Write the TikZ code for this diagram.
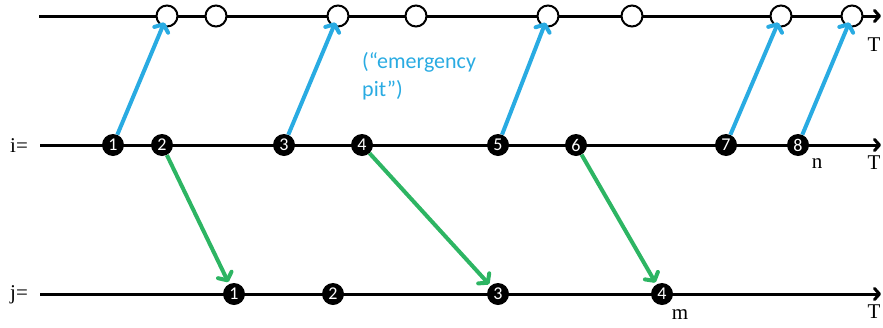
\documentclass[tikz,border=0pt]{standalone}
\usepackage{fontspec}
\setmainfont{Liberation Serif}
\newfontfamily\labelfont{Carlito}
\usetikzlibrary{arrows.meta}
\definecolor{pitblue}{HTML}{29ABE2}
\definecolor{movegreen}{HTML}{2DB563}
\begin{document}
\begin{tikzpicture}[x=1pt,y=-1pt,
  axis/.style={line width=3pt,-{Straight Barb[length=5pt,width=11pt,line cap=round,line join=round]}},
  event/.style={circle,fill=black,inner sep=0pt,minimum size=22pt,text=white,font=\labelfont\fontsize{18}{18}\selectfont},
  slot/.style={circle,draw=black,fill=white,line width=2pt,inner sep=0pt,minimum size=21pt},
  pitarrow/.style={pitblue,line width=4pt,-{Straight Barb[length=6pt,width=15pt,line cap=round,line join=round]}},
  movearrow/.style={movegreen,line width=4pt,-{Straight Barb[length=6pt,width=15pt,line cap=round,line join=round]}},
  axislabel/.style={font=\fontsize{21}{21}\selectfont,inner sep=0pt}
]
\useasboundingbox (0,0) rectangle (883,327);

% time axes
\coordinate (topL) at (39,16);   \coordinate (topR) at (881,16);
\coordinate (midL) at (40,145);  \coordinate (midR) at (881,145);
\coordinate (botL) at (40,294);  \coordinate (botR) at (881,294);
\draw[axis] (topL) -- (topR);
\draw[axis] (midL) -- (midR);
\draw[axis] (botL) -- (botR);

% empty slots on the top axis
\foreach \n/\x in {1/167,2/216,3/338,4/416,5/548,6/632,7/781,8/852}
  \node[slot] (c\n) at (\x,16) {};

% events on the i axis
\foreach \n/\x in {1/113,2/162,3/284,4/362,5/498,6/576,7/726,8/798}
  \node[event] (d\n) at (\x,145) {\n};

% events on the j axis
\foreach \n/\x in {1/234,2/333,3/498,4/662}
  \node[event] (j\n) at (\x,294) {\n};

% axis labels
\node[axislabel,anchor=west] (ilab) at (10,146) {i=};
\node[axislabel,anchor=west] (jlab) at (10,295) {j=};
\node[axislabel] (Ttop) at (874,45) {T};
\node[axislabel] (Tmid) at (874,163) {T};
\node[axislabel] (Tbot) at (874,312) {T};
\node[axislabel] (nlab) at (817,164) {n};
\node[axislabel] (mlab) at (680,315) {m};

% emergency pit note
\node[pitblue,font=\labelfont\fontsize{22}{28}\selectfont,align=left,anchor=north west,inner sep=0pt] (note) at (362,52) {(“emergency\\pit”)};

% arrows into the emergency pit
\foreach \n in {1,3,5,7,8}
  \draw[pitarrow,shorten >=7pt] (d\n) -- (c\n.center);

% arrows from i to j
\draw[movearrow,shorten >=2pt] (d2) -- (j1);
\draw[movearrow,shorten >=2pt] (d4) -- (j3);
\draw[movearrow,shorten >=2pt] (d6) -- (j4);
\end{tikzpicture}
\end{document}
